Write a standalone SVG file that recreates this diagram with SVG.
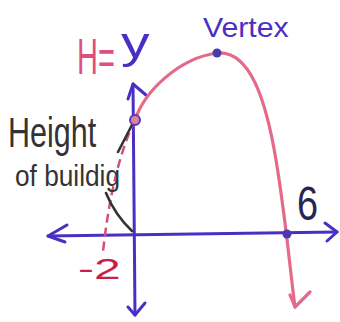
<svg xmlns="http://www.w3.org/2000/svg" width="340" height="322" viewBox="0 0 340 322">
<defs>
<style>
.axis{fill:none;stroke:#4a2fc4;stroke-width:3;stroke-linecap:round;stroke-linejoin:round}
.curve{fill:none;stroke:#e56a8a;stroke-width:3.2;stroke-linecap:round;stroke-linejoin:round}
.dash{fill:none;stroke:#d0507a;stroke-width:2.5;stroke-dasharray:9 5}
.ink{fill:none;stroke:#333;stroke-width:2.6;stroke-linecap:round}
.t{font-family:"Liberation Sans","DejaVu Sans",sans-serif}
</style>
</defs>
<rect width="340" height="322" fill="#ffffff"/>
<g id="connectors">
<path class="axis" d="M48,236 L337,232"/>
<path class="axis" d="M67,225 L48,236 L65,242"/>
<path class="axis" d="M325,223 L337,232 L327,241"/>
<path class="axis" d="M133,84 L135,315"/>
<path class="axis" d="M128,99 L133,84 L146,95"/>
<path class="axis" d="M128,307 L135,315 L145,303"/>
<path class="curve" d="M135,120 C145,90 180,58 217,53 C250,50 266,100 276,160 S290,270 295,307"/>
<path class="curve" d="M290,295 L295,307 L310,292"/>
<path class="dash" d="M135,120 Q112,168 103,252"/>
<path class="ink" d="M133,123 L118,152"/>
<path class="ink" d="M106,193 Q115,215 132,231"/>
</g>
<g id="y-intercept"><circle cx="135" cy="120" r="5" fill="#d8849a" stroke="#5a3ab8" stroke-width="2"/></g>
<g id="vertex"><circle cx="217" cy="53" r="4.5" fill="#4a3ab0"/></g>
<g id="x-intercept"><circle cx="287" cy="234" r="4.5" fill="#4a3ab0"/></g>
<g id="labels">
<text class="t" transform="translate(77,74) scale(0.58,1)" font-size="50" fill="#e0507a">H=</text>
<text class="t" transform="translate(121,58) scale(1.3,1)" font-size="44" fill="#4a2fc4">y</text>
<text class="t" transform="translate(203,37) scale(1.08,1)" font-size="28" fill="#4a2fc4">Vertex</text>
<text class="t" transform="translate(8,147) scale(0.71,1)" font-size="43" fill="#333">Height</text>
<text class="t" transform="translate(15,186) scale(0.875,1)" font-size="30" fill="#333">of buildig</text>
<text class="t" transform="translate(78,279) scale(1.6,1)" font-size="30" fill="#c8204a">-2</text>
<text class="t" transform="translate(297,220) scale(0.79,1)" font-size="48" fill="#2a2550">6</text>
</g>
</svg>
